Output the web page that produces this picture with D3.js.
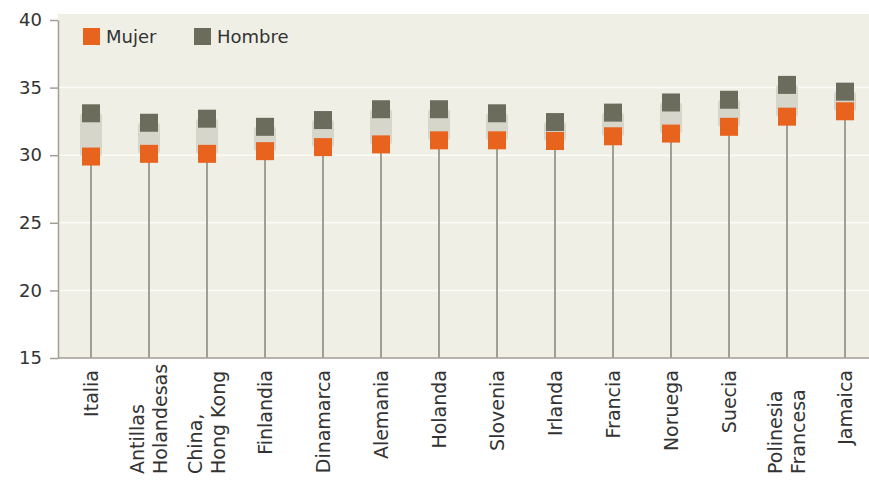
<!DOCTYPE html>
<html>
<head>
<meta charset="utf-8">
<script src="https://cdn.jsdelivr.net/npm/d3@7/dist/d3.min.js"></script>
<style>
  html, body { margin: 0; padding: 0; background: #ffffff; }
  svg { display: block; }
  text { font-family: "DejaVu Sans", sans-serif; fill: #333333; }
</style>
</head>
<body>
<svg id="chart" width="869" height="482"></svg>
<script>
const categories = [
  ["Italia"],
  ["Antillas", "Holandesas"],
  ["China,", "Hong Kong"],
  ["Finlandia"],
  ["Dinamarca"],
  ["Alemania"],
  ["Holanda"],
  ["Slovenia"],
  ["Irlanda"],
  ["Francia"],
  ["Noruega"],
  ["Suecia"],
  ["Polinesia", "Francesa"],
  ["Jamaica"]
];
const mujer  = [29.9, 30.1, 30.1, 30.3, 30.6, 30.8, 31.1, 31.1, 31.05, 31.4, 31.6, 32.1, 32.85, 33.25];
const hombre = [33.1, 32.4, 32.7, 32.1, 32.6, 33.4, 33.4, 33.1, 32.45, 33.15, 33.9, 34.1, 35.2, 34.7];
const yTicks = [15, 20, 25, 30, 35, 40];
const seriesNames = ["Mujer", "Hombre"];

const colOrange = "#e8641e";
const colGray = "#6c6c5c";
const colBand = "#d6d6cb";
const colStem = "#a39e94";

const svg = d3.select("#chart");
const keys = categories.map(c => c.join(" "));
const data = keys.map((k, i) => ({ key: k, lines: categories[i], m: mujer[i], h: hombre[i] }));

const x = d3.scaleBand().domain(keys).range([62, 874]).padding(0);
const y = d3.scaleLinear().domain([15, 40]).range([358, 20]);
const cx = k => x(k) + x.bandwidth() / 2;

// plot background
svg.append("rect").attr("x", 58).attr("y", 14).attr("width", 869 - 58).attr("height", 358 - 14)
  .attr("fill", "#efefe6");

// gridlines
svg.append("g").selectAll("line").data(yTicks.filter(t => t > 15 && t < 40)).join("line")
  .attr("x1", 58).attr("x2", 869).attr("y1", d => y(d)).attr("y2", d => y(d))
  .attr("stroke", "#fbfbf7").attr("stroke-width", 1.5);

// y axis
const yAxis = d3.axisLeft(y).tickValues(yTicks).tickSize(8).tickPadding(8).tickSizeOuter(0);
const gy = svg.append("g").attr("transform", "translate(58,0)").call(yAxis);
gy.select(".domain").attr("stroke", colStem).attr("stroke-width", 1.5);
gy.selectAll(".tick line").attr("stroke", colStem).attr("stroke-width", 1.5);
gy.selectAll(".tick text").style("font-size", "18px").style("font-family", "DejaVu Sans, sans-serif").attr("fill", "#333");

// x axis baseline
svg.append("line").attr("x1", 58).attr("x2", 869).attr("y1", y(15)).attr("y2", y(15))
  .attr("stroke", colStem).attr("stroke-width", 1.5);

// stems
svg.append("g").selectAll("line").data(data).join("line")
  .attr("x1", d => cx(d.key)).attr("x2", d => cx(d.key))
  .attr("y1", y(15)).attr("y2", d => y(Math.min(d.m, d.h)))
  .attr("stroke", colStem).attr("stroke-width", 2);

// range band
const bw = 22;
svg.append("g").selectAll("rect").data(data).join("rect")
  .attr("x", d => cx(d.key) - bw / 2)
  .attr("y", d => y(Math.max(d.m, d.h)))
  .attr("width", bw)
  .attr("height", d => Math.abs(y(d.m) - y(d.h)))
  .attr("rx", 3)
  .attr("fill", colBand);

// markers
const s = 18;
svg.append("g").selectAll("rect").data(data).join("rect")
  .attr("x", d => cx(d.key) - s / 2).attr("y", d => y(d.h) - s / 2)
  .attr("width", s).attr("height", s).attr("fill", colGray);
svg.append("g").selectAll("rect").data(data).join("rect")
  .attr("x", d => cx(d.key) - s / 2).attr("y", d => y(d.m) - s / 2)
  .attr("width", s).attr("height", s).attr("fill", colOrange);

// x labels (rotated)
const lineGap = 23;
const labels = svg.append("g").selectAll("g").data(data).join("g");
labels.each(function(d) {
  const g = d3.select(this);
  const n = d.lines.length;
  const c = cx(d.key);
  d.lines.forEach((ln, j) => {
    const off = (j - (n - 1) / 2) * lineGap;
    const t = g.append("text")
      .attr("transform", `translate(${c + off},${n === 1 ? 370 : 474}) rotate(-90)`)
      .attr("text-anchor", n === 1 ? "end" : "start")
      .attr("dy", "0.36em")
      .style("font-size", "19px")
      .text(ln);
  });
});

// legend
const leg = svg.append("g");
const legItems = [
  { name: seriesNames[0], color: colOrange, x: 83, tx: 106 },
  { name: seriesNames[1], color: colGray, x: 194, tx: 217 }
];
legItems.forEach(it => {
  leg.append("rect").attr("x", it.x).attr("y", 28).attr("width", 17).attr("height", 17).attr("fill", it.color);
  leg.append("text").attr("x", it.tx).attr("y", 43).style("font-size", "18px").text(it.name);
});
</script>
</body>
</html>
